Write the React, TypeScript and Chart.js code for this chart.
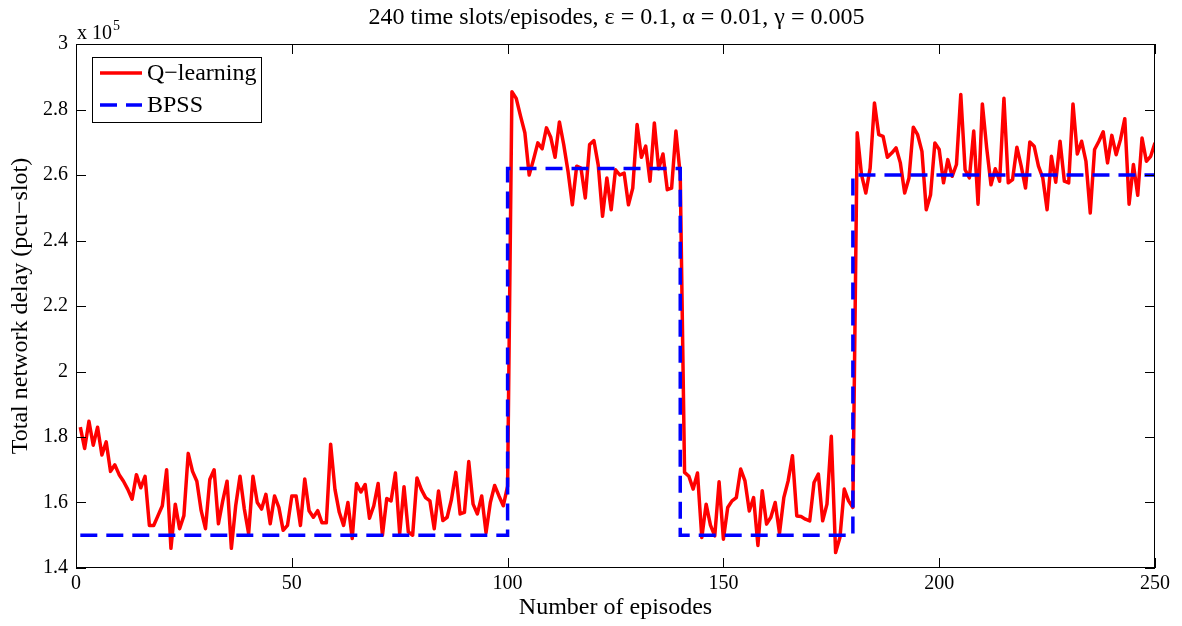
import React, { useEffect, useRef } from "react";
import { Chart, registerables } from "chart.js";

Chart.register(...registerables);

// Total network delay (x 10^5 pcu-slot) per episode, episodes 1..250
const qLearning = [
  1.83, 1.765, 1.848, 1.775, 1.83, 1.745, 1.785, 1.695, 1.715, 1.685,
  1.665, 1.64, 1.61, 1.685, 1.645, 1.68, 1.53, 1.53, 1.56, 1.59,
  1.70, 1.46, 1.595, 1.52, 1.56, 1.75, 1.695, 1.665, 1.575, 1.52,
  1.67, 1.70, 1.535, 1.605, 1.665, 1.46, 1.59, 1.68, 1.58, 1.505,
  1.68, 1.60, 1.58, 1.625, 1.535, 1.62, 1.585, 1.515, 1.53, 1.62,
  1.62, 1.53, 1.672, 1.575, 1.555, 1.575, 1.538, 1.538, 1.778, 1.64,
  1.57, 1.53, 1.60, 1.49, 1.658, 1.632, 1.655, 1.552, 1.59, 1.658,
  1.50, 1.612, 1.605, 1.69, 1.505, 1.648, 1.51, 1.50, 1.675, 1.64,
  1.615, 1.605, 1.52, 1.635, 1.545, 1.555, 1.61, 1.692, 1.565, 1.57,
  1.725, 1.595, 1.565, 1.62, 1.508, 1.60, 1.652, 1.62, 1.59, 1.65,
  2.854, 2.834, 2.78, 2.729, 2.60, 2.647, 2.698, 2.68, 2.744, 2.715,
  2.654, 2.762, 2.693, 2.611, 2.509, 2.627, 2.621, 2.53, 2.693, 2.705,
  2.63, 2.474, 2.591, 2.494, 2.616, 2.60, 2.606, 2.509, 2.56, 2.754,
  2.654, 2.688, 2.581, 2.759, 2.619, 2.664, 2.555, 2.56, 2.734, 2.6,
  1.692, 1.68, 1.641, 1.69, 1.493, 1.595, 1.531, 1.498, 1.663, 1.488,
  1.585, 1.605, 1.615, 1.702, 1.666, 1.574, 1.615, 1.469, 1.636, 1.534,
  1.555, 1.60, 1.506, 1.615, 1.666, 1.743, 1.559, 1.557, 1.549, 1.544,
  1.661, 1.687, 1.544, 1.595, 1.802, 1.447, 1.493, 1.641, 1.605, 1.585,
  2.729, 2.601, 2.545, 2.621, 2.82, 2.723, 2.718, 2.654, 2.667, 2.683,
  2.637, 2.545, 2.591, 2.746, 2.723, 2.672, 2.494, 2.54, 2.698, 2.678,
  2.576, 2.647, 2.596, 2.632, 2.846, 2.616, 2.591, 2.734, 2.511, 2.817,
  2.683, 2.57, 2.619, 2.581, 2.834, 2.576, 2.586, 2.685, 2.627, 2.56,
  2.701, 2.688, 2.627, 2.591, 2.494, 2.657, 2.578, 2.703, 2.581, 2.576,
  2.817, 2.664, 2.703, 2.642, 2.484, 2.678, 2.703, 2.732, 2.637, 2.721,
  2.662, 2.708, 2.772, 2.511, 2.632, 2.538, 2.713, 2.642, 2.657, 2.698,
];

// BPSS step levels (breakpoints)
const bpssEpisodes = [1, 100, 100, 140, 140, 180, 180, 250];
const bpssDelay = [1.5, 1.5, 2.62, 2.62, 1.5, 1.5, 2.6, 2.6];

const xTicks = [0, 50, 100, 150, 200, 250];
const yTicks = [1.4, 1.6, 1.8, 2, 2.2, 2.4, 2.6, 2.8, 3];

const titleText = "240 time slots/episodes, \u03B5 = 0.1, \u03B1 = 0.01, \u03B3 = 0.005";
const xLabel = "Number of episodes";
const yLabel = "Total network delay (pcu\u2212slot)";
const seriesNames = ["Q\u2212learning", "BPSS"];

const FONT = '"Liberation Serif", "Times New Roman", serif';

const decorPlugin = {
  id: "matlabDecor",
  afterDatasetsDraw(chart: any) {
    const { ctx, chartArea, scales } = chart;
    const { left, right, top, bottom } = chartArea;
    ctx.save();
    // frame
    ctx.strokeStyle = "#000";
    ctx.lineWidth = 1;
    ctx.strokeRect(left + 0.5, top + 0.5, right - left - 1, bottom - top - 1);
    // ticks inward on all sides
    const tl = 10;
    ctx.beginPath();
    xTicks.forEach((v) => {
      const px = Math.round(scales.x.getPixelForValue(v)) + 0.5;
      ctx.moveTo(px, bottom);
      ctx.lineTo(px, bottom - tl);
      ctx.moveTo(px, top);
      ctx.lineTo(px, top + tl);
    });
    yTicks.forEach((v) => {
      const py = Math.round(scales.y.getPixelForValue(v)) + 0.5;
      ctx.moveTo(left, py);
      ctx.lineTo(left + tl, py);
      ctx.moveTo(right, py);
      ctx.lineTo(right - tl, py);
    });
    ctx.stroke();

    // legend
    const lx = 92, ly = 57, lw = 169, lh = 65;
    ctx.fillStyle = "#fff";
    ctx.fillRect(lx, ly, lw, lh);
    ctx.strokeStyle = "#000";
    ctx.lineWidth = 1;
    ctx.strokeRect(lx + 0.5, ly + 0.5, lw, lh);
    const rows = [ly + 16, ly + 48];
    chart.data.datasets.forEach((ds: any, i: number) => {
      const y = rows[i];
      ctx.beginPath();
      ctx.strokeStyle = ds.borderColor;
      ctx.lineWidth = ds.borderWidth;
      ctx.setLineDash(ds.borderDash || []);
      ctx.moveTo(100, y);
      ctx.lineTo(142, y);
      ctx.stroke();
      ctx.setLineDash([]);
      ctx.fillStyle = "#000";
      ctx.font = `24px ${FONT}`;
      ctx.textAlign = "left";
      ctx.textBaseline = "middle";
      ctx.fillText(ds.label, 147, y + 1);
    });

    // title
    ctx.fillStyle = "#000";
    ctx.textAlign = "center";
    ctx.textBaseline = "middle";
    ctx.font = `24px ${FONT}`;
    ctx.fillText(titleText, (left + right) / 2 + 1, 18);

    // x label
    ctx.font = `24px ${FONT}`;
    ctx.fillText(xLabel, (left + right) / 2, 608);

    // y label
    ctx.save();
    ctx.translate(21, (top + bottom) / 2);
    ctx.rotate(-Math.PI / 2);
    ctx.fillText(yLabel, 0, 0);
    ctx.restore();

    // exponent
    ctx.textAlign = "left";
    ctx.textBaseline = "alphabetic";
    ctx.font = `20px ${FONT}`;
    ctx.fillText("x 10", left + 1, 39);
    const w = ctx.measureText("x 10").width;
    ctx.font = `14px ${FONT}`;
    ctx.fillText("5", left + 1 + w + 1, 30);
    ctx.restore();
  },
};

export default function App() {
  const ref = useRef<HTMLCanvasElement | null>(null);

  useEffect(() => {
    document.body.style.margin = "0";
    const canvas = ref.current;
    if (!canvas) return;
    const qData = qLearning.map((v, i) => ({ x: i + 1, y: v }));
    const bData = bpssEpisodes.map((e, i) => ({ x: e, y: bpssDelay[i] }));
    const chart = new Chart(canvas, {
      type: "line",
      data: {
        datasets: [
          {
            label: seriesNames[0],
            data: qData,
            borderColor: "#ff0000",
            borderWidth: 3.5,
            pointRadius: 0,
            tension: 0,
            borderJoinStyle: "round",
            order: 2,
          },
          {
            label: seriesNames[1],
            data: bData,
            borderColor: "#0000ff",
            borderWidth: 3.5,
            borderDash: [17, 9],
            pointRadius: 0,
            tension: 0,
            order: 1,
          },
        ],
      },
      options: {
        responsive: false,
        animation: false,
        devicePixelRatio: 1,
        layout: { padding: { left: 0, right: 27, top: 44, bottom: 0 } },
        plugins: {
          legend: { display: false },
          tooltip: { enabled: false },
          title: { display: false },
        },
        scales: {
          x: {
            type: "linear",
            min: 0,
            max: 250,
            grid: { display: false, drawTicks: false },
            border: { display: false },
            afterBuildTicks: (s: any) => {
              s.ticks = xTicks.map((v) => ({ value: v }));
            },
            afterFit: (s: any) => {
              s.height = 58;
            },
            ticks: {
              font: { family: FONT, size: 20 },
              color: "#000",
              padding: 4,
              maxRotation: 0,
              autoSkip: false,
              callback: (v: any) => String(v),
            },
          },
          y: {
            type: "linear",
            min: 1.4,
            max: 3,
            grid: { display: false, drawTicks: false },
            border: { display: false },
            afterBuildTicks: (s: any) => {
              s.ticks = yTicks.map((v) => ({ value: v }));
            },
            afterFit: (s: any) => {
              s.width = 76;
            },
            ticks: {
              font: { family: FONT, size: 20 },
              color: "#000",
              padding: 8,
              autoSkip: false,
              callback: (v: any) => String(Number(Number(v).toFixed(1))),
            },
          },
        },
      },
      plugins: [decorPlugin],
    });
    return () => chart.destroy();
  }, []);

  return (
    <div style={{ width: 1182, height: 626, background: "#fff" }}>
      <canvas ref={ref} width={1182} height={626} style={{ display: "block" }} />
    </div>
  );
}
